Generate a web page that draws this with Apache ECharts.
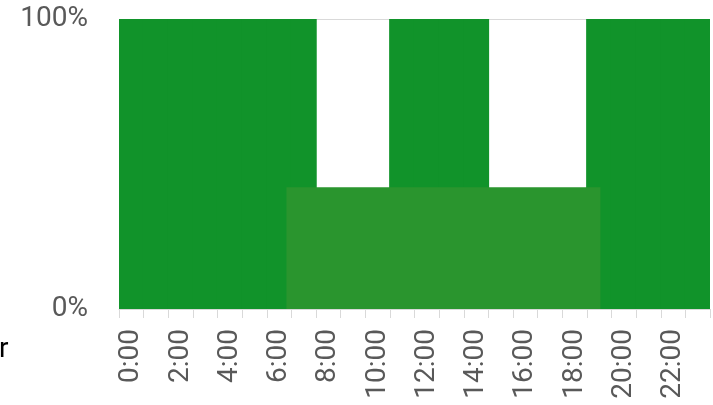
<!DOCTYPE html>
<html>
<head>
<meta charset="utf-8">
<script src="https://cdn.jsdelivr.net/npm/echarts@6/dist/echarts.min.js"></script>
<style>
html,body{margin:0;padding:0;background:#fff;}
#chart{width:713px;height:405px;}
</style>
</head>
<body>
<div id="chart"></div>
<script>
// Data
var hours = ['0:00','1:00','2:00','3:00','4:00','5:00','6:00','7:00','8:00','9:00','10:00','11:00',
             '12:00','13:00','14:00','15:00','16:00','17:00','18:00','19:00','20:00','21:00','22:00','23:00'];
var hourlyShare = [100,100,100,100,100,100,100,100,0,0,0,100,100,100,100,0,0,0,0,100,100,100,100,100];
var bandStart = 6.8;   // hour where the lighter band begins
var bandEnd = 19.55;   // hour where the lighter band ends
var bandLevel = 42;    // percent height of the lighter band
var yTicks = [0, 100];

var chart = echarts.init(document.getElementById('chart'), null, {renderer:'canvas'});
var font = 'Roboto';
chart.setOption({
  animation: false,
  grid: {left: 119, right: 3, top: 19, bottom: 96},
  xAxis: [{
    type: 'category',
    data: hours,
    boundaryGap: true,
    axisLine: {show: true, lineStyle: {color: '#d9d9d9', width: 1}},
    axisTick: {show: true, length: 9, interval: 0, lineStyle: {color: '#d9d9d9'}},
    axisLabel: {interval: 1, rotate: 90, margin: 20, color: '#595959', fontSize: 28, fontFamily: font},
    splitLine: {show: false},
    splitArea: {show: false}
  }, {
    type: 'value',
    min: 0, max: 24,
    show: false,
    splitLine: {show: false}
  }],
  yAxis: {
    type: 'value',
    min: yTicks[0], max: yTicks[1], interval: yTicks[1] - yTicks[0],
    axisLine: {show: false},
    axisTick: {show: false},
    axisLabel: {formatter: '{value}%', margin: 31, color: '#595959', fontSize: 28, fontFamily: font},
    splitLine: {show: true, lineStyle: {color: '#d9d9d9', width: 1}}
  },
  series: [{
    type: 'bar',
    xAxisIndex: 0,
    data: hourlyShare,
    barWidth: '106%',
    itemStyle: {color: '#11932a', borderWidth: 0},
    z: 2
  }, {
    type: 'line',
    xAxisIndex: 1,
    data: [[bandStart, bandLevel], [bandEnd, bandLevel]],
    symbol: 'none',
    lineStyle: {width: 0, color: '#2a952e'},
    areaStyle: {color: '#2a952e', opacity: 1},
    z: 3
  }],
  graphic: [{
    type: 'text',
    left: -1,
    top: 336,
    style: {text: 'r', fill: '#000', fontSize: 28, fontFamily: font}
  }]
});
</script>
</body>
</html>
